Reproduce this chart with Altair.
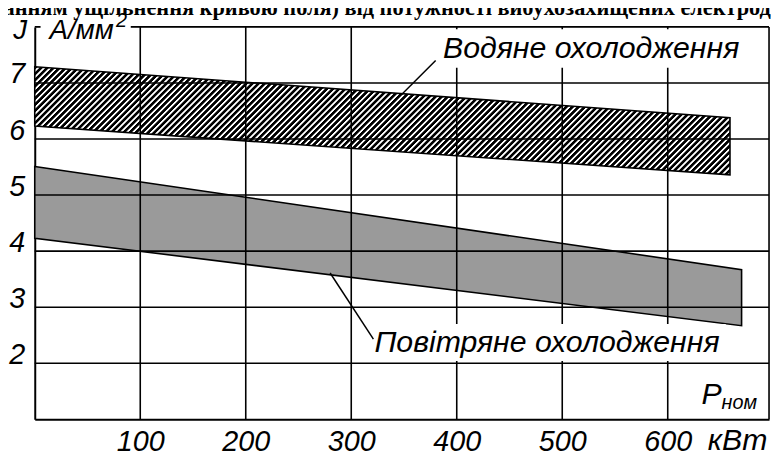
import altair as alt
import pandas as pd

# ---------------- data ----------------
water_p = [0, 659]
water_top = [7.29, 6.38]
water_bot = [6.23, 5.36]

air_p = [0, 670]
air_top = [5.51, 3.67]
air_bot = [4.23, 2.67]

x_ticks = [100, 200, 300, 400, 500, 600]
y_ticks = [2, 3, 4, 5, 6, 7]

# leader lines (from band edge to label)
lead_x1 = [348, 280]
lead_y1 = [6.80, 3.61]
lead_x2 = [380, 321]
lead_y2 = [7.40, 2.43]

title_text = "ванням ущільнення кривою поля) від потужності вибухозахищених електродвигунів"
water_label = "Водяне охолодження"
air_label = "Повітряне охолодження"

# ---------------- layout ----------------
X_MAX = 696
Y_MIN, Y_MAX = 1, 8
W, H = 741, 396
FONT = "Liberation Sans"
FS = 29
FS_LBL = 30.5

xs = alt.Scale(domain=[0, X_MAX], nice=False, zero=False)
ys = alt.Scale(domain=[Y_MIN, Y_MAX], nice=False, zero=False)


def stripe_gradient(x0, x1, ymax, ymin, period_px=6.2):
    wb = (x1 - x0) * W / X_MAX
    hb = (ymax - ymin) * H / (Y_MAX - Y_MIN)
    k = hb / wb
    m = (1 + k) / (1 + k * k)
    n = int(round((wb + hb) / period_px))
    stops = []
    for i in range(n):
        stops.append(alt.GradientStop(color="black", offset=i / n))
        stops.append(alt.GradientStop(color="black", offset=(i + 0.45) / n))
        stops.append(alt.GradientStop(color="white", offset=(i + 0.6) / n))
        stops.append(alt.GradientStop(color="white", offset=(i + 0.85) / n))
    stops.append(alt.GradientStop(color="black", offset=1.0))
    return alt.LinearGradient(gradient="linear", stops=stops, x1=0, y1=0, x2=m, y2=m * k)


water_df = pd.DataFrame({"p": water_p, "top": water_top, "bot": water_bot})
air_df = pd.DataFrame({"p": air_p, "top": air_top, "bot": air_bot})

x_axis = alt.Axis(values=x_ticks, grid=False, ticks=False, domain=True, domainColor="black",
                  domainWidth=2, labelFont=FONT, labelFontSize=FS, labelFontStyle="italic",
                  labelColor="black", labelPadding=8, title=None, labelFlush=False,
                  labelOverlap=False)
y_axis = alt.Axis(values=y_ticks, grid=False, ticks=False, domain=True, domainColor="black",
                  domainWidth=2, labelFont=FONT, labelFontSize=FS, labelFontStyle="italic",
                  labelColor="black", labelPadding=10, labelBaseline="alphabetic", title=None,
                  labelFlush=False, labelOverlap=False)


def X(f):
    return alt.X(f, scale=xs, axis=x_axis)


def Y(f):
    return alt.Y(f, scale=ys, axis=y_axis)


water = alt.Chart(water_df).mark_area(
    fill=stripe_gradient(water_p[0], water_p[1], max(water_top), min(water_bot)),
    stroke="black", strokeWidth=1.6, fillOpacity=1
).encode(x=X("p:Q"), y=Y("top:Q"), y2="bot:Q")

air = alt.Chart(air_df).mark_area(
    fill="#9a9a9a", stroke="black", strokeWidth=1.6, fillOpacity=1
).encode(x=X("p:Q"), y=Y("top:Q"), y2="bot:Q")

vgrid_df = pd.DataFrame({"gx": x_ticks, "y0": Y_MIN, "y1": Y_MAX})
hgrid_df = pd.DataFrame({"gy": y_ticks + [Y_MAX], "x0": 0, "x1": X_MAX})
right_df = pd.DataFrame({"gx": [X_MAX], "y0": Y_MIN, "y1": Y_MAX})

vgrid = alt.Chart(vgrid_df).mark_rule(color="black", strokeWidth=1.6).encode(
    x=X("gx:Q"), y=Y("y0:Q"), y2="y1:Q")
hgrid = alt.Chart(hgrid_df).mark_rule(color="black", strokeWidth=1.6).encode(
    y=Y("gy:Q"), x=X("x0:Q"), x2="x1:Q")
right = alt.Chart(right_df).mark_rule(color="black", strokeWidth=1.6).encode(
    x=X("gx:Q"), y=Y("y0:Q"), y2="y1:Q")

lead_df = pd.DataFrame({"x1": lead_x1, "y1": lead_y1, "x2": lead_x2, "y2": lead_y2})
leaders = alt.Chart(lead_df).mark_rule(color="black", strokeWidth=1.5).encode(
    x=X("x1:Q"), y=Y("y1:Q"), x2="x2:Q", y2="y2:Q")

# white backgrounds behind labels (they interrupt the grid)
mask_df = pd.DataFrame({
    "a": [385, 322, 5.5], "b": [676, 655, 91],
    "c": [7.27, 2.04, 7.95], "d": [7.96, 2.70, 8.35],
})
masks = alt.Chart(mask_df).mark_rect(color="white").encode(
    x=X("a:Q"), x2="b:Q", y=Y("c:Q"), y2="d:Q")

text_df = pd.DataFrame({
    "x": [387, 322, 632, 638],
    "y": [7.45, 2.20, 1.28, 0.45],
    "t": [water_label, air_label, "P", "кВт"],
})
texts = alt.Chart(text_df).mark_text(
    align="left", baseline="alphabetic", font=FONT, fontSize=FS_LBL, fontStyle="italic",
    color="black"
).encode(x=X("x:Q"), y=Y("y:Q"), text="t:N")

unit_df = pd.DataFrame({"x": [-20.5, 14], "y": [7.785, 7.79], "t": ["J", "А/мм"]})
units = alt.Chart(unit_df).mark_text(
    align="left", baseline="alphabetic", font=FONT, fontSize=28, fontStyle="italic",
    color="black"
).encode(x=X("x:Q"), y=Y("y:Q"), text="t:N")

small_df = pd.DataFrame({"x": [77, 651], "y": [8.0, 1.19], "t": ["2", "ном"]})
small = alt.Chart(small_df).mark_text(
    align="left", baseline="alphabetic", font=FONT, fontSize=20, fontStyle="italic", color="black"
).encode(x=X("x:Q"), y=Y("y:Q"), text="t:N")

title_df = pd.DataFrame({"x": [-41], "y": [8.21], "t": [title_text]})
title = alt.Chart(title_df).mark_text(
    align="left", baseline="alphabetic", font="Liberation Serif", fontSize=22.5,
    fontWeight="bold", color="black"
).encode(x=X("x:Q"), y=Y("y:Q"), text="t:N")

chart = alt.layer(
    water, air, vgrid, hgrid, right, leaders, masks, texts, units, small, title
).properties(
    width=W, height=H,
    autosize=alt.AutoSizeParams(type="none"),
    padding={"left": 27, "top": 17, "right": 2, "bottom": 41},
).configure_view(stroke=None).configure(background="white")

chart.save("out.html", embed_options={"renderer": "svg", "actions": False})
